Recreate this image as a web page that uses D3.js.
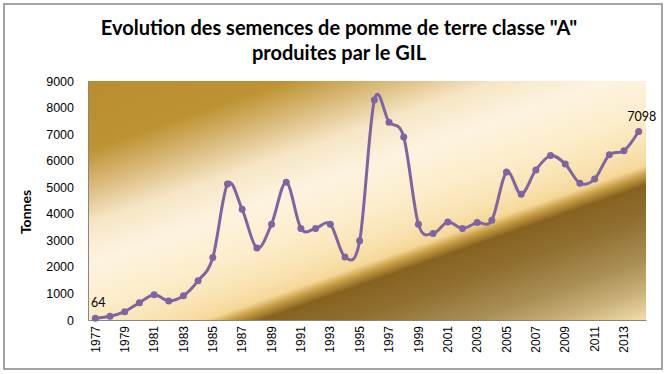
<!DOCTYPE html>
<html>
<head>
<meta charset="utf-8">
<script src="https://cdn.jsdelivr.net/npm/d3@7"></script>
<style>
  body { margin: 0; background: #fff; }
  svg { display: block; font-family: Lato, "Open Sans", sans-serif; }
</style>
</head>
<body>
<svg id="chart" width="671" height="374"></svg>
<script>
// data
const years = d3.range(1977, 2015);
const tonnes = [64, 140, 315, 650, 950, 720, 910, 1480, 2350, 5120,
  4170, 2710, 3610, 5190, 3450, 3450, 3610, 2370, 2980, 8280,
  7450, 6890, 3610, 3260, 3690, 3450, 3670, 3760, 5570, 4740,
  5650, 6190, 5870, 5150, 5310, 6220, 6370, 7098];
const yTicks = [0, 1000, 2000, 3000, 4000, 5000, 6000, 7000, 8000, 9000];
const xTickLabels = years.filter((d, i) => i % 2 === 0);
const titleLines = ['Evolution des semences de pomme de terre classe "A"', "produites par le GIL"];
const yTitle = "Tonnes";

const svg = d3.select("#chart");
const margin = { left: 88, top: 81, right: 25, bottom: 54 };
const width = 671 - margin.left - margin.right;
const height = 374 - margin.top - margin.bottom;

// outer frame
svg.append("rect")
  .attr("x", 4).attr("y", 4).attr("width", 658).attr("height", 365)
  .attr("fill", "#fff").attr("stroke", "#868686").attr("stroke-width", 1.5);

// background gradient (Excel "gold" style), bands sloping up to the right
const defs = svg.append("defs");
const grad = defs.append("linearGradient")
  .attr("id", "gold")
  .attr("gradientUnits", "userSpaceOnUse")
  .attr("x1", 0).attr("y1", 0)
  .attr("x2", 0.35 * 434 / 1.1225).attr("y2", 434 / 1.1225);
[
  [0, "#BA8E2E"], [0.16, "#BD9232"], [0.25, "#DCBD80"], [0.33, "#F6E6C6"],
  [0.42, "#FDF3DF"], [0.52, "#FCEDCC"], [0.6, "#FAE3B2"], [0.645, "#F5D898"],
  [0.665, "#C99F45"], [0.69, "#86621F"], [0.76, "#8F6F30"], [0.86, "#A98E54"],
  [0.93, "#C9B078"], [1, "#F2DDAB"]
].forEach(([o, c]) => grad.append("stop").attr("offset", o).attr("stop-color", c));

const g = svg.append("g").attr("transform", `translate(${margin.left},${margin.top})`);

g.append("rect").attr("width", width).attr("height", height).attr("fill", "url(#gold)");

const x = d3.scaleBand().domain(years).range([0, width]);
const y = d3.scaleLinear().domain([0, 9000]).range([height, 0]);

// y axis
const yAxis = g.append("g")
  .call(d3.axisLeft(y).tickValues(yTicks).tickFormat(d3.format("d")).tickSize(0).tickPadding(14));
yAxis.select(".domain").attr("stroke", "#868686");
yAxis.selectAll("text").attr("font-size", 12.5).attr("fill", "#000");

// x axis
const xAxis = g.append("g")
  .attr("transform", `translate(0,${height})`)
  .call(d3.axisBottom(x).tickValues(xTickLabels).tickSize(0));
xAxis.select(".domain").attr("stroke", "#868686");
xAxis.selectAll("text")
  .attr("font-size", 12).attr("fill", "#000")
  .attr("transform", "rotate(-90)")
  .attr("text-anchor", "end")
  .attr("x", -6).attr("y", 0).attr("dy", "0.35em");

// line
const line = d3.line()
  .x((d, i) => x(years[i]) + x.bandwidth() / 2)
  .y(d => y(d))
  .curve(d3.curveCardinal.tension(0));

g.append("path")
  .datum(tonnes)
  .attr("fill", "none")
  .attr("stroke", "#8064A2")
  .attr("stroke-width", 3)
  .attr("d", line);

g.selectAll("circle.pt")
  .data(tonnes)
  .enter().append("circle")
  .attr("class", "pt")
  .attr("cx", (d, i) => x(years[i]) + x.bandwidth() / 2)
  .attr("cy", d => y(d))
  .attr("r", 3.5)
  .attr("fill", "#8064A2");

// data labels on first and last point
const ends = [0, tonnes.length - 1];
g.selectAll("text.lbl")
  .data(ends)
  .enter().append("text")
  .attr("class", "lbl")
  .attr("x", i => x(years[i]) + x.bandwidth() / 2 + 3)
  .attr("y", i => y(tonnes[i]) - 11)
  .attr("text-anchor", "middle")
  .attr("font-size", 12.5)
  .text(i => tonnes[i]);

// y title
svg.append("text")
  .attr("transform", `translate(31,212) rotate(-90)`)
  .attr("text-anchor", "middle")
  .attr("font-size", 14)
  .attr("font-weight", "bold")
  .text(yTitle);

// chart title
svg.selectAll("text.title")
  .data(titleLines)
  .enter().append("text")
  .attr("class", "title")
  .attr("x", 339)
  .attr("y", (d, i) => 35 + i * 25)
  .attr("text-anchor", "middle")
  .attr("font-size", 20)
  .attr("font-weight", "bold")
  .text(d => d);
</script>
</body>
</html>
